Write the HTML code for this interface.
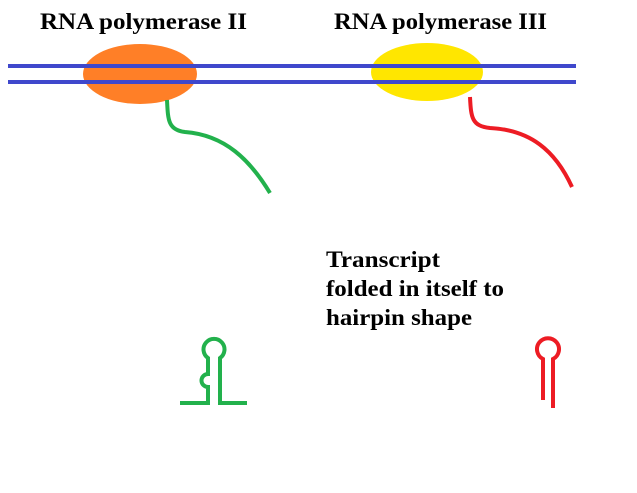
<!DOCTYPE html>
<html><head><style>body{margin:0;background:#fff}svg{display:block}</style></head><body>
<svg width="637" height="493" xmlns="http://www.w3.org/2000/svg">
<rect width="637" height="493" fill="#fff"/>
<ellipse cx="140" cy="74" rx="57" ry="30" fill="#ff7f27"/>
<ellipse cx="427" cy="72" rx="56" ry="29" fill="#ffe600"/>
<line x1="8" y1="66" x2="576" y2="66" stroke="#3f48cc" stroke-width="4"/>
<line x1="8" y1="82" x2="576" y2="82" stroke="#3f48cc" stroke-width="4"/>
<path d="M167 100 C168 120 168 130 185 132 C225 135 250 160 270 193" fill="none" stroke="#22b14c" stroke-width="4"/>
<path d="M470 97 C471 118 472 126 490 128 C530 130 555 150 572 187" fill="none" stroke="#ed1c24" stroke-width="4"/>
<path d="M180 403 H208 V387 A6.5 6.5 0 0 1 208 374 V358 A10.5 10.5 0 1 1 220 358 V403 H247" fill="none" stroke="#22b14c" stroke-width="4"/>
<path d="M543 400 V359 A11 11 0 1 1 553 359 V408" fill="none" stroke="#ed1c24" stroke-width="4"/>
<g font-family="Liberation Serif, serif" font-weight="bold" font-size="23" fill="#000">
<text x="40" y="29" textLength="207" lengthAdjust="spacingAndGlyphs">RNA polymerase II</text>
<text x="334" y="29" textLength="213" lengthAdjust="spacingAndGlyphs">RNA polymerase III</text>
<text x="326" y="267" textLength="114" lengthAdjust="spacingAndGlyphs">Transcript</text>
<text x="326" y="296" textLength="178" lengthAdjust="spacingAndGlyphs">folded in itself to</text>
<text x="326" y="325" textLength="146" lengthAdjust="spacingAndGlyphs">hairpin shape</text>
</g>
</svg>
</body></html>
